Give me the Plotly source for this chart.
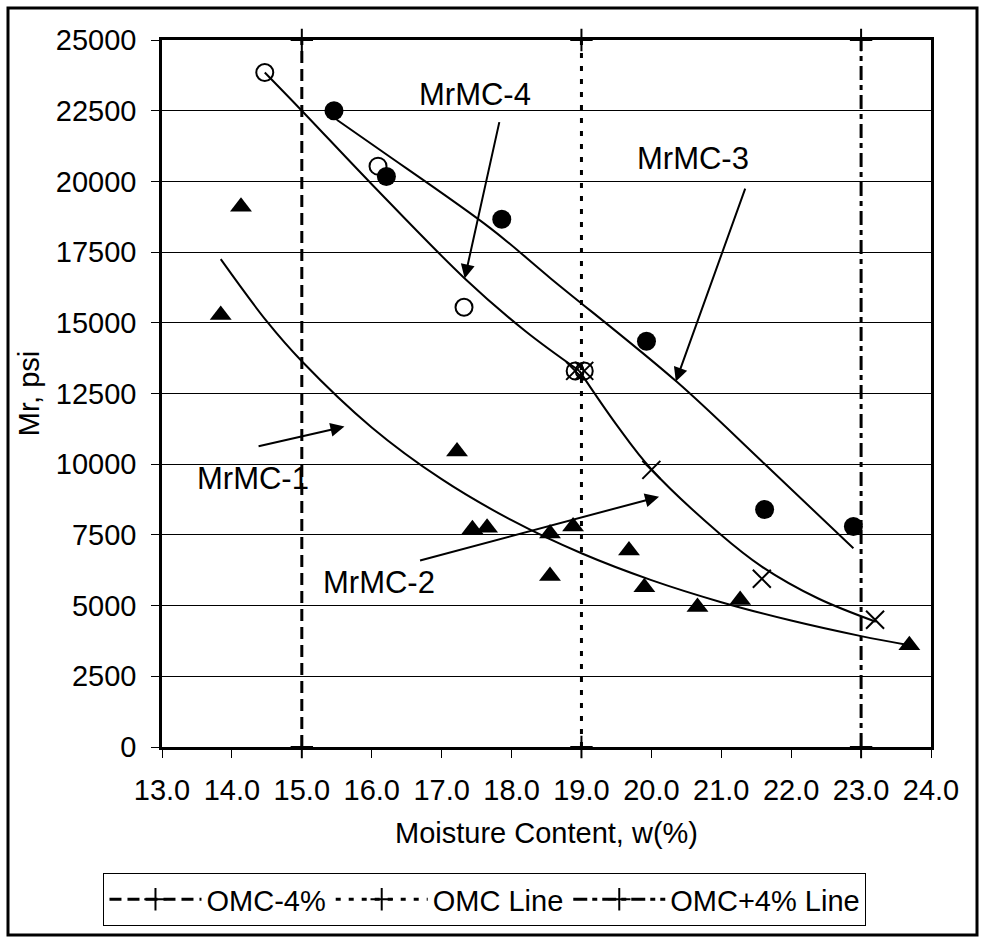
import plotly.graph_objects as go

# ---------------- data ----------------
tri_x = [13.84, 14.13, 17.22, 17.44, 17.65, 18.55, 18.55, 18.88, 19.68, 19.90, 20.66, 21.27, 23.69]
tri_y = [15280, 19100, 10450, 7700, 7750, 6050, 7550, 7800, 6950, 5650, 4950, 5200, 3600]

fc_x = [15.46, 16.21, 17.86, 19.93, 21.62, 22.89]
fc_y = [22500, 20170, 18660, 14350, 8400, 7800]

oc_x = [14.47, 16.09, 17.32, 18.91, 19.04]
oc_y = [23850, 20540, 15550, 13300, 13300]

xm_x = [18.91, 19.04, 20.00, 21.58, 23.20]
xm_y = [13300, 13300, 9800, 5950, 4500]

# trend curves
c1_x = [13.84, 14.5, 15.0, 16.0, 17.0, 18.0, 19.0, 20.0, 21.0, 22.0, 23.0, 23.69]
c1_y = [17250, 15050, 13640, 11300, 9470, 8020, 6850, 5900, 5120, 4470, 3920, 3600]

c4_x = [14.47, 15.0, 16.0, 17.33, 18.2, 18.97]
c4_y = [23850, 22500, 19900, 16570, 14700, 13300]

c2_x = [18.97, 19.5, 20.0, 20.97, 21.58, 22.38, 23.21]
c2_y = [13300, 11400, 9820, 7560, 6380, 5260, 4430]

c3_x = [15.50, 16.12, 17.70, 18.56, 20.36, 21.61, 22.89]
c3_y = [22180, 21110, 18340, 16570, 12920, 10030, 7030]

omc_names = ["OMC-4%", "OMC Line", "OMC+4% Line"]
omc_x = [15.0, 19.0, 23.0]
omc_y = [0, 25000]

labels = ["MrMC-1", "MrMC-2", "MrMC-3", "MrMC-4"]

x_ticks = [13.0 + i for i in range(12)]
y_ticks = [2500 * i for i in range(11)]

# ---------------- figure ----------------
FONT = "Liberation Sans, Arial, sans-serif"
fig = go.Figure()

# OMC reference lines
dashes = ["12px,6px", "5px,8px", "14px,5px,5px,5px"]
for name, xv, d in zip(omc_names, omc_x, dashes):
    fig.add_trace(go.Scatter(
        x=[xv, xv], y=omc_y, mode="lines+markers", name=name,
        line=dict(color="black", width=3, dash=d),
        marker=dict(symbol="cross-thin", size=16, color="black",
                    line=dict(color="black", width=2)),
        cliponaxis=False, showlegend=True))

# trend curves
for cx, cy in [(c1_x, c1_y), (c4_x, c4_y), (c2_x, c2_y), (c3_x, c3_y)]:
    fig.add_trace(go.Scatter(
        x=cx, y=cy, mode="lines", line=dict(color="black", width=2, shape="spline"),
        showlegend=False, hoverinfo="skip"))

# data markers
fig.add_trace(go.Scatter(
    x=tri_x, y=tri_y, mode="markers", showlegend=False,
    marker=dict(symbol="triangle-up", size=19, color="black")))
fig.add_trace(go.Scatter(
    x=fc_x, y=fc_y, mode="markers", showlegend=False,
    marker=dict(symbol="circle", size=19, color="black")))
fig.add_trace(go.Scatter(
    x=oc_x, y=oc_y, mode="markers", showlegend=False,
    marker=dict(symbol="circle-open", size=17, color="black",
                line=dict(color="black", width=2))))
fig.add_trace(go.Scatter(
    x=xm_x, y=xm_y, mode="markers", showlegend=False,
    marker=dict(symbol="x-thin", size=18, color="black",
                line=dict(color="black", width=2))))

# label texts
label_pos = [(14.30, 9510), (16.11, 5820), (20.59, 20800), (17.48, 23090)]
arrows = [((14.36, 10620), (15.61, 11330)),
          ((16.67, 6580), (20.11, 8850)),
          ((21.35, 19800), (20.35, 12920)),
          ((17.83, 22150), (17.33, 16570))]
ann = []
for lab, (lx, ly), ((tx, ty), (hx, hy)) in zip(labels, label_pos, arrows):
    ann.append(dict(x=lx, y=ly, xref="x", yref="y", text=lab, showarrow=False,
                    font=dict(family=FONT, size=31, color="black"),
                    xanchor="center", yanchor="middle"))
    ann.append(dict(x=hx, y=hy, ax=tx, ay=ty, xref="x", yref="y", axref="x", ayref="y",
                    text="", showarrow=True, arrowhead=2, arrowsize=1.4, arrowwidth=2,
                    arrowcolor="black", standoff=0, startstandoff=0))

shapes = [dict(type="rect", xref="paper", yref="paper",
               x0=(8 - 162) / 769, x1=(977 - 162) / 769,
               y0=(747 - 935) / 707, y1=(747 - 8) / 707,
               line=dict(color="black", width=3), fillcolor="rgba(0,0,0,0)",
               layer="above")]

fig.update_layout(
    width=985, height=942,
    margin=dict(l=162, r=54, t=40, b=195),
    paper_bgcolor="white", plot_bgcolor="white",
    font=dict(family=FONT, size=29, color="black"),
    annotations=ann, shapes=shapes,
    legend=dict(orientation="h", x=0.42, xanchor="center",
                y=-0.178, yanchor="top",
                bordercolor="black", borderwidth=1, bgcolor="white",
                itemwidth=92, font=dict(family=FONT, size=29, color="black"),
                itemclick=False),
)
fig.update_xaxes(
    range=[13, 24], tickvals=x_ticks, ticktext=[f"{v:.1f}" for v in x_ticks],
    ticks="outside", ticklen=8, tickwidth=1, tickcolor="black",
    showline=True, linecolor="black", linewidth=2.5, mirror=True,
    showgrid=False, zeroline=False, ticklabelstandoff=7,
    title=dict(text="Moisture Content, w(%)", standoff=19,
               font=dict(family=FONT, size=29)))
fig.update_yaxes(
    range=[0, 25000], tickvals=y_ticks, ticktext=[str(v) for v in y_ticks],
    ticks="outside", ticklen=8, tickwidth=1, tickcolor="black",
    showline=True, linecolor="black", linewidth=2.5, mirror=True,
    showgrid=True, gridcolor="black", gridwidth=1, zeroline=False,
    ticklabelstandoff=9,
    title=dict(text="Mr, psi", standoff=8, font=dict(family=FONT, size=29)))

fig.write_html("out.html")
